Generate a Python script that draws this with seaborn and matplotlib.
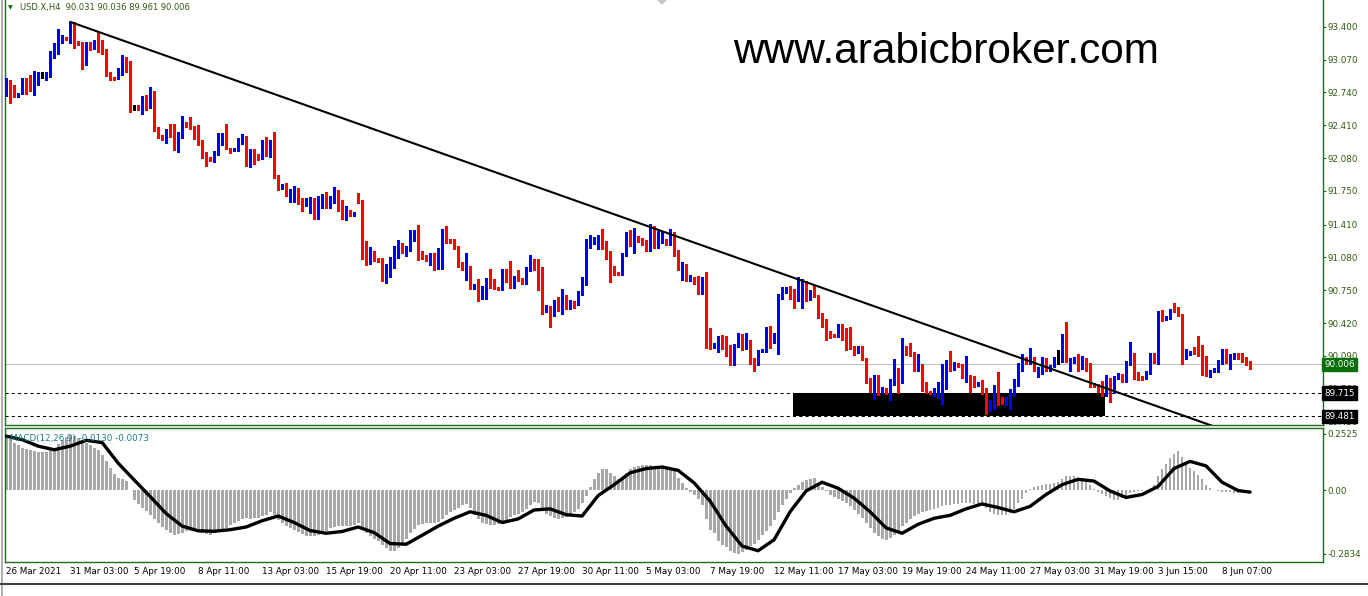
import numpy as np
import pandas as pd
import seaborn as sns
import matplotlib.pyplot as plt
from matplotlib.patches import Rectangle, Polygon
from matplotlib.lines import Line2D
import matplotlib.transforms as mtransforms

sns.set_style("white")
plt.rcParams['font.family'] = ['DejaVu Sans']

# H4 candles, one entry per bar (open = previous close)
first_open = 92.73
gap_opens = {88: 91.67}
closes = [
    92.86, 92.71, 92.70, 92.72, 92.78, 92.77, 92.76, 92.83, 92.92, 92.92,
    92.94, 93.16, 93.21, 93.25, 93.29, 93.28, 93.42, 93.23, 93.22, 93.11,
    93.23, 93.18, 93.24, 93.16, 93.15, 92.94, 92.89, 92.88, 92.95, 93.10,
    93.06, 92.58, 92.58, 92.57, 92.69, 92.58, 92.74, 92.37, 92.29, 92.27,
    92.35, 92.31, 92.26, 92.30, 92.41, 92.40, 92.39, 92.29, 92.23, 92.13,
    92.08, 92.07, 92.12, 92.22, 92.24, 92.18, 92.15, 92.17, 92.24, 92.29,
    92.07, 92.13, 92.11, 92.07, 92.25, 92.12, 92.22, 91.89, 91.77, 91.82,
    91.73, 91.75, 91.78, 91.63, 91.61, 91.65, 91.67, 91.57, 91.65, 91.69,
    91.59, 91.70, 91.76, 91.56, 91.53, 91.54, 91.51, 91.53, 91.64, 91.19,
    91.06, 91.12, 91.06, 91.04, 90.88, 90.92, 91.03, 91.08, 91.18, 91.13,
    91.17, 91.30, 91.33, 91.08, 91.07, 91.06, 91.07, 91.01, 91.07, 91.29,
    91.27, 91.24, 91.18, 91.00, 90.96, 90.98, 90.77, 90.78, 90.68, 90.73,
    90.86, 90.82, 90.77, 90.76, 90.93, 90.92, 90.79, 90.88, 90.86, 90.82,
    90.97, 91.01, 90.97, 90.77, 90.54, 90.59, 90.56, 90.63, 90.57, 90.68,
    90.57, 90.64, 90.61, 90.72, 90.85, 91.21, 91.27, 91.28, 91.29, 91.21,
    91.12, 90.95, 90.93, 90.91, 91.11, 91.27, 91.25, 91.28, 91.25, 91.24,
    91.15, 91.35, 91.24, 91.26, 91.27, 91.22, 91.32, 91.11, 90.96, 90.97,
    90.85, 90.88, 90.83, 90.79, 90.86, 90.19, 90.18, 90.21, 90.26, 90.24,
    90.12, 90.01, 90.20, 90.25, 90.22, 90.25, 90.05, 90.01, 90.14, 90.15,
    90.38, 90.23, 90.31, 90.70, 90.73, 90.77, 90.72, 90.70, 90.74, 90.77,
    90.66, 90.73, 90.69, 90.49, 90.43, 90.32, 90.30, 90.29, 90.40, 90.34,
    90.29, 90.18, 90.13, 90.16, 90.06, 89.83, 89.76, 89.89, 89.73, 89.76,
    89.73, 89.84, 89.95, 89.83, 90.17, 90.12, 90.11, 89.95, 89.98, 89.75,
    89.73, 89.72, 89.75, 89.80, 89.91, 90.02, 89.96, 90.02, 90.00, 89.89,
    89.90, 89.87, 89.79, 89.80, 89.72, 89.58, 89.62, 89.78, 89.66, 89.62,
    89.63, 89.71, 89.80, 89.97, 90.03, 90.02, 90.04, 89.95, 89.97, 90.03,
    89.95, 89.99, 90.06, 90.06, 90.27, 90.05, 90.06, 90.07, 89.99, 90.03,
    89.98, 89.80, 89.79, 89.75, 89.70, 89.85, 89.73, 89.88, 89.89, 89.84,
    90.01, 90.12, 89.88, 89.87, 89.86, 89.92, 90.11, 90.03, 90.53, 90.45,
    90.48, 90.55, 90.54, 90.50, 90.07, 90.11, 90.13, 90.12, 90.11, 90.06,
    89.90, 89.94, 89.96, 90.04, 90.11, 90.04, 90.07, 90.10, 90.07, 90.04,
    90.031, 90.006,
]
highs = [
    92.89, 92.87, 92.81, 92.73, 92.89, 92.89, 92.92, 92.96, 92.95, 92.95,
    92.95, 93.16, 93.24, 93.38, 93.32, 93.30, 93.45, 93.45, 93.26, 93.25,
    93.25, 93.25, 93.27, 93.35, 93.27, 93.18, 92.95, 92.90, 92.99, 93.12,
    93.10, 93.06, 92.61, 92.61, 92.70, 92.71, 92.79, 92.75, 92.39, 92.31,
    92.37, 92.42, 92.42, 92.34, 92.50, 92.44, 92.49, 92.40, 92.41, 92.26,
    92.14, 92.09, 92.15, 92.33, 92.33, 92.42, 92.18, 92.18, 92.28, 92.32,
    92.30, 92.17, 92.17, 92.12, 92.26, 92.29, 92.26, 92.34, 91.91, 91.82,
    91.83, 91.77, 91.80, 91.78, 91.68, 91.68, 91.69, 91.68, 91.70, 91.72,
    91.74, 91.70, 91.79, 91.76, 91.66, 91.60, 91.56, 91.54, 91.73, 91.66,
    91.25, 91.19, 91.14, 91.07, 91.07, 91.01, 91.08, 91.20, 91.26, 91.23,
    91.20, 91.36, 91.36, 91.41, 91.14, 91.10, 91.12, 91.12, 91.18, 91.37,
    91.40, 91.27, 91.27, 91.20, 91.03, 91.12, 90.99, 90.81, 90.86, 90.79,
    90.87, 90.96, 90.86, 90.78, 90.96, 90.96, 91.04, 90.89, 90.95, 90.87,
    90.98, 91.10, 91.06, 91.06, 90.98, 90.60, 90.59, 90.65, 90.68, 90.76,
    90.70, 90.65, 90.64, 90.74, 90.88, 91.27, 91.31, 91.28, 91.31, 91.37,
    91.25, 91.14, 90.99, 90.93, 91.12, 91.34, 91.36, 91.38, 91.30, 91.28,
    91.26, 91.42, 91.40, 91.35, 91.34, 91.27, 91.37, 91.34, 91.15, 91.03,
    91.01, 90.90, 90.88, 90.89, 90.88, 90.93, 90.37, 90.22, 90.29, 90.30,
    90.29, 90.20, 90.21, 90.32, 90.31, 90.32, 90.25, 90.07, 90.15, 90.16,
    90.38, 90.39, 90.32, 90.71, 90.78, 90.78, 90.79, 90.76, 90.88, 90.86,
    90.84, 90.75, 90.79, 90.70, 90.52, 90.46, 90.34, 90.31, 90.41, 90.41,
    90.37, 90.38, 90.19, 90.19, 90.19, 90.07, 89.87, 89.90, 89.90, 89.78,
    89.77, 89.86, 90.06, 89.97, 90.27, 90.19, 90.22, 90.13, 90.11, 90.01,
    89.83, 89.74, 89.77, 89.83, 90.01, 90.05, 90.14, 90.03, 90.02, 90.01,
    90.09, 89.90, 89.89, 89.83, 89.85, 89.77, 89.65, 89.80, 89.93, 89.68,
    89.68, 89.76, 89.86, 90.02, 90.11, 90.08, 90.17, 90.08, 89.98, 90.08,
    90.07, 90.00, 90.08, 90.15, 90.31, 90.43, 90.07, 90.08, 90.11, 90.09,
    90.07, 90.02, 89.82, 89.81, 89.84, 89.90, 89.87, 89.89, 89.92, 89.91,
    90.04, 90.23, 90.12, 89.93, 89.89, 89.94, 90.12, 90.12, 90.54, 90.55,
    90.49, 90.56, 90.62, 90.58, 90.51, 90.16, 90.14, 90.18, 90.29, 90.20,
    90.09, 89.95, 89.97, 90.05, 90.16, 90.16, 90.11, 90.12, 90.12, 90.12,
    90.08, 90.036,
]
lows = [
    92.70, 92.63, 92.69, 92.69, 92.72, 92.72, 92.75, 92.71, 92.81, 92.89,
    92.87, 92.90, 93.09, 93.13, 93.24, 93.27, 93.24, 93.19, 93.22, 92.98,
    93.02, 93.17, 93.18, 93.15, 93.13, 92.91, 92.87, 92.87, 92.88, 92.92,
    92.95, 92.54, 92.56, 92.56, 92.52, 92.56, 92.58, 92.35, 92.28, 92.26,
    92.23, 92.29, 92.16, 92.14, 92.28, 92.39, 92.37, 92.27, 92.21, 92.08,
    92.00, 92.05, 92.04, 92.11, 92.21, 92.17, 92.13, 92.15, 92.15, 92.22,
    92.00, 91.99, 92.02, 92.06, 92.07, 92.10, 92.09, 91.88, 91.76, 91.77,
    91.70, 91.64, 91.64, 91.62, 91.55, 91.60, 91.53, 91.47, 91.47, 91.58,
    91.58, 91.58, 91.63, 91.55, 91.47, 91.46, 91.50, 91.50, 91.63, 91.06,
    91.00, 91.01, 91.04, 91.03, 90.84, 90.82, 90.88, 90.97, 91.07, 91.12,
    91.09, 91.14, 91.25, 91.05, 91.06, 91.04, 91.00, 90.95, 90.96, 90.96,
    91.23, 91.23, 91.17, 90.98, 90.95, 90.85, 90.76, 90.76, 90.64, 90.66,
    90.66, 90.77, 90.76, 90.75, 90.75, 90.83, 90.77, 90.77, 90.84, 90.81,
    90.81, 90.94, 90.95, 90.75, 90.51, 90.53, 90.38, 90.49, 90.54, 90.51,
    90.56, 90.56, 90.57, 90.60, 90.70, 90.80, 91.18, 91.22, 91.17, 91.17,
    91.06, 90.83, 90.90, 90.90, 90.90, 91.09, 91.20, 91.12, 91.24, 91.21,
    91.14, 91.14, 91.18, 91.18, 91.23, 91.21, 91.21, 91.09, 90.95, 90.85,
    90.84, 90.84, 90.81, 90.71, 90.71, 90.17, 90.16, 90.17, 90.13, 90.16,
    90.09, 90.00, 90.00, 90.18, 90.15, 90.16, 90.01, 89.94, 90.00, 90.13,
    90.13, 90.17, 90.22, 90.11, 90.66, 90.72, 90.66, 90.57, 90.64, 90.57,
    90.64, 90.65, 90.68, 90.47, 90.38, 90.25, 90.27, 90.28, 90.28, 90.25,
    90.15, 90.16, 90.10, 90.12, 90.05, 89.82, 89.73, 89.66, 89.70, 89.72,
    89.71, 89.65, 89.80, 89.72, 89.82, 90.10, 90.09, 89.94, 89.94, 89.74,
    89.72, 89.71, 89.69, 89.67, 89.61, 89.76, 89.94, 89.95, 89.98, 89.87,
    89.83, 89.73, 89.78, 89.79, 89.71, 89.51, 89.54, 89.56, 89.60, 89.61,
    89.60, 89.56, 89.69, 89.79, 89.94, 90.01, 90.01, 89.94, 89.88, 89.91,
    89.94, 89.94, 89.98, 90.01, 90.03, 90.03, 89.94, 90.02, 89.94, 89.96,
    89.94, 89.78, 89.78, 89.73, 89.69, 89.69, 89.63, 89.72, 89.86, 89.83,
    89.83, 90.00, 89.86, 89.85, 89.85, 89.86, 89.91, 90.02, 90.01, 90.44,
    90.45, 90.46, 90.53, 90.49, 90.01, 90.06, 90.10, 90.11, 90.09, 89.90,
    89.89, 89.88, 89.93, 89.93, 90.01, 90.02, 89.96, 90.06, 90.06, 90.03,
    90.00, 89.961,
]

# MACD(12,26,9): main histogram per bar, signal line read every 4 bars
macd_main = [
    .243, .230, .214, .201, .191, .185, .179, .175, .172, .171,
    .172, .179, .191, .208, .224, .237, .246, .243, .235, .224,
    .211, .201, .191, .179, .159, .130, .101, .074, .058, .053,
    .042, .002, -.043, -.060, -.076, -.092, -.111, -.127, -.146, -.163,
    -.175, -.188, -.198, -.195, -.188, -.182, -.179, -.179, -.182, -.188,
    -.195, -.198, -.191, -.183, -.175, -.167, -.156, -.146, -.135, -.127,
    -.124, -.127, -.124, -.121, -.114, -.108, -.098, -.111, -.130, -.146,
    -.159, -.169, -.175, -.185, -.195, -.201, -.204, -.204, -.198, -.188,
    -.179, -.169, -.163, -.159, -.159, -.159, -.159, -.153, -.146, -.175,
    -.191, -.204, -.216, -.227, -.243, -.259, -.272, -.269, -.256, -.237,
    -.216, -.191, -.172, -.156, -.151, -.146, -.146, -.143, -.140, -.127,
    -.111, -.095, -.087, -.079, -.066, -.060, -.079, -.108, -.127, -.143,
    -.151, -.156, -.156, -.151, -.143, -.130, -.119, -.111, -.105, -.098,
    -.082, -.063, -.050, -.055, -.079, -.103, -.114, -.124, -.127, -.124,
    -.119, -.111, -.098, -.082, -.055, -.023, .014, .050, .079, .098,
    .095, .079, .063, .053, .058, .079, .095, .105, .111, .114,
    .114, .114, .111, .109, .106, .105, .101, .090, .058, .034,
    .010, -.006, -.018, -.039, -.063, -.127, -.175, -.188, -.224, -.243,
    -.253, -.269, -.280, -.282, -.275, -.264, -.248, -.237, -.220, -.200,
    -.183, -.159, -.130, -.095, -.063, -.039, -.011, .010, .026, .037,
    .045, .050, .056, .034, .014, -.002, -.018, -.027, -.037, -.047,
    -.055, -.071, -.087, -.103, -.124, -.143, -.167, -.188, -.204, -.216,
    -.220, -.214, -.198, -.182, -.159, -.143, -.127, -.114, -.103, -.098,
    -.092, -.087, -.082, -.076, -.071, -.066, -.063, -.060, -.060, -.056,
    -.055, -.056, -.060, -.063, -.066, -.079, -.095, -.105, -.111, -.111,
    -.108, -.101, -.082, -.056, -.039, -.011, .008, .014, .018, .024,
    .027, .031, .034, .040, .053, .063, .066, .063, .058, .053,
    .040, .026, .008, -.005, -.014, -.024, -.034, -.043, -.043, -.034,
    -.023, -.011, -.005, -.002, -.002, .002, .008, .026, .066, .095,
    .117, .143, .162, .175, .150, .122, .101, .085, .069, .050,
    .025, .009, .000, -.004, -.006, -.008, -.008, -.009, -.010, -.011,
    -.012, -.013,
]
signal_bars = [0, 4, 8, 12, 16, 20, 24, 28, 32, 36, 40, 44, 48, 52, 56, 60,
               64, 68, 72, 76, 80, 84, 88, 92, 96, 100, 104, 108, 112, 116,
               120, 124, 128, 132, 136, 140, 144, 148, 152, 156, 160, 164,
               168, 172, 176, 180, 184, 188, 192, 196, 200, 204, 208, 212,
               216, 220, 224, 228, 232, 236, 240, 244, 248, 252, 256, 260,
               264, 268, 272, 276, 280, 284, 288, 292, 296, 300, 304, 308, 311]
signal_vals = [.243, .227, .198, .182, .198, .224, .214, .122, .047, -.027,
               -.103, -.159, -.180, -.182, -.175, -.163, -.135, -.114, -.143,
               -.179, -.191, -.183, -.163, -.188, -.237, -.240, -.200, -.159,
               -.124, -.095, -.111, -.143, -.127, -.087, -.082, -.108, -.114,
               -.023, .026, .079, .098, .105, .090, .034, -.047, -.159, -.248,
               -.269, -.220, -.095, -.002, .037, .010, -.034, -.095, -.167,
               -.191, -.151, -.124, -.111, -.082, -.060, -.076, -.095, -.071,
               -.018, .026, .050, .042, -.002, -.031, -.018, .018, .098, .130,
               .110, .037, .000, -.0073]

# trend line anchors (bar, price) and support zone
trend_a = (16, 93.45)
trend_b = (198, 90.86)
zone_bars = (196.7, 274.8)
zone_top, zone_bottom = 89.715, 89.481
last_price = 90.006

time_labels = ["26 Mar 2021", "31 Mar 03:00", "5 Apr 19:00", "8 Apr 11:00",
               "13 Apr 03:00", "15 Apr 19:00", "20 Apr 11:00", "23 Apr 03:00",
               "27 Apr 19:00", "30 Apr 11:00", "5 May 03:00", "7 May 19:00",
               "12 May 11:00", "17 May 03:00", "19 May 19:00", "24 May 11:00",
               "27 May 03:00", "31 May 19:00", "3 Jun 15:00", "8 Jun 07:00"]
label_step = 16
price_ticks = [93.400, 93.070, 92.740, 92.410, 92.080, 91.750, 91.410,
               91.080, 90.750, 90.420, 90.090, 89.760, 89.430]
macd_ticks = [0.2525, 0.0, -0.2834]
macd_tick_labels = ["0.2525", "0.00", "-0.2834"]

# ---------------------------------------------------------------
df = pd.DataFrame({"close": closes, "high": highs, "low": lows})
df["bar"] = np.arange(len(df))
df["open"] = [first_open] + closes[:-1]
for k, v in gap_opens.items():
    df.loc[k, "open"] = v
df.loc[len(df) - 1, "open"] = 90.031
df["high"] = df[["high", "open", "close"]].max(axis=1)
df["low"] = df[["low", "open", "close"]].min(axis=1)
df["color"] = np.where(df.close > df.open, "#0000ff",
                       np.where(df.close < df.open, "#ff0000", "#000000"))

W, H = 1368, 596
fig = plt.figure(figsize=(W / 100, H / 100), dpi=100)
fig.patch.set_facecolor("white")
frame = "#1f6b1f"
txt = "#2f5a10"
small = 6.3


def px_axes(x0, y0, x1, y1):
    return fig.add_axes([x0 / W, 1 - y1 / H, (x1 - x0) / W, (y1 - y0) / H])


ax = px_axes(5, 0, 1323, 425)
axm = px_axes(5, 428, 1323, 562)
xlim = (-0.3, 329.25)

# --- price pane
ax.set_xlim(*xlim)
ax.set_ylim(93.67 - 425 * 0.01006, 93.67)
ax.axhline(last_price, color="#c0c0c0", lw=0.75, zorder=1)
for lvl in (zone_top, zone_bottom):
    ax.axhline(lvl, color="black", lw=0.75, ls=(0, (3, 3)), zorder=2)
ax.add_patch(Rectangle((zone_bars[0], zone_bottom), zone_bars[1] - zone_bars[0],
                       zone_top - zone_bottom, facecolor="black", edgecolor="none", zorder=2))

body_h = np.maximum((df.close - df.open).abs(), 0.011)
ax.vlines(df.bar, df.low, df.high, colors=df.color, lw=0.75, antialiased=False, zorder=3)
ax.bar(df.bar, body_h, bottom=df[["open", "close"]].min(axis=1), width=0.7,
       color=df.color, linewidth=0, antialiased=False, zorder=4)

slope = (trend_b[1] - trend_a[1]) / (trend_b[0] - trend_a[0])
tx = np.array([trend_a[0], xlim[1]])
sns.lineplot(x=tx, y=trend_a[1] + slope * (tx - trend_a[0]), ax=ax,
             color="black", lw=1.5, zorder=5)

ax.yaxis.tick_right()
ax.set_yticks(price_ticks)
ax.set_yticklabels([f"{v:.3f}" for v in price_ticks])
ax.tick_params(axis="y", direction="out", length=2.5, width=0.8, color=frame,
               labelsize=small, labelcolor=txt, pad=0.6)
ax.set_xticks([])
for s in ("left", "right", "bottom"):
    ax.spines[s].set_color(frame)
    ax.spines[s].set_linewidth(1.0)
ax.spines["top"].set_visible(False)

trans = mtransforms.blended_transform_factory(ax.transAxes, ax.transData)
for val, fc in ((last_price, "#0a6e0a"), (zone_top, "black"), (zone_bottom, "black")):
    ax.text(1.0012, val, f"{val:.3f}", transform=trans, ha="left", va="center",
            fontsize=small, color="white", zorder=10,
            bbox=dict(boxstyle="square,pad=0.25", facecolor=fc, edgecolor=fc))

# --- MACD pane
axm.set_xlim(*xlim)
axm.set_ylim(-0.3193, 0.2791)
axm.bar(np.arange(len(macd_main)), macd_main, width=0.72, color="#a8a8a8",
        linewidth=0, antialiased=False, zorder=2)
sns.lineplot(x=signal_bars, y=signal_vals, ax=axm, color="black", lw=2.4, zorder=3)
axm.yaxis.tick_right()
axm.set_yticks(macd_ticks)
axm.set_yticklabels(macd_tick_labels)
axm.tick_params(axis="y", direction="out", length=2.5, width=0.8, color=frame,
                labelsize=small, labelcolor=txt, pad=0.6)
xt = [i * label_step for i in range(len(time_labels))]
axm.set_xticks(xt)
axm.set_xticklabels(time_labels, ha="left")
axm.tick_params(axis="x", direction="out", length=3, width=0.8, color=frame,
                labelsize=small, labelcolor="black", pad=0.3)
for s in axm.spines.values():
    s.set_color(frame)
    s.set_linewidth(1.0)
axm.text(0.004, 0.955, "MACD(12,26,9) -0.0130 -0.0073", transform=axm.transAxes,
         ha="left", va="top", fontsize=small, color="#1a7a8a", zorder=10)

# --- header, watermark and window details
fig.text(10 / W, 1 - 7.5 / H, "\u25bc", fontsize=4.5, color="#0a6e0a", ha="center", va="center")
fig.text(20 / W, 1 - 7.5 / H, "USD.X,H4  90.031 90.036 89.961 90.006", fontsize=6.0,
         color=txt, ha="left", va="center")
fig.text(733 / W, 1 - 63 / H, "www.arabicbroker.com", fontsize=30.5,
         family="Liberation Sans", color="black", ha="left", va="baseline")
fig.add_artist(Polygon([[657 / W, 1.0], [667 / W, 1.0], [662 / W, 1 - 5 / H]],
                       closed=True, transform=fig.transFigure, facecolor="#c8c8c8",
                       edgecolor="none"))
fig.add_artist(Line2D([1.5 / W, 1.5 / W], [0, 1], transform=fig.transFigure,
                      color="#a0a0a0", lw=1.2))
fig.add_artist(Line2D([0, 1], [1 - 584 / H, 1 - 584 / H], transform=fig.transFigure,
                      color="#404040", lw=1.5))

fig.savefig("out.png", dpi=100)
